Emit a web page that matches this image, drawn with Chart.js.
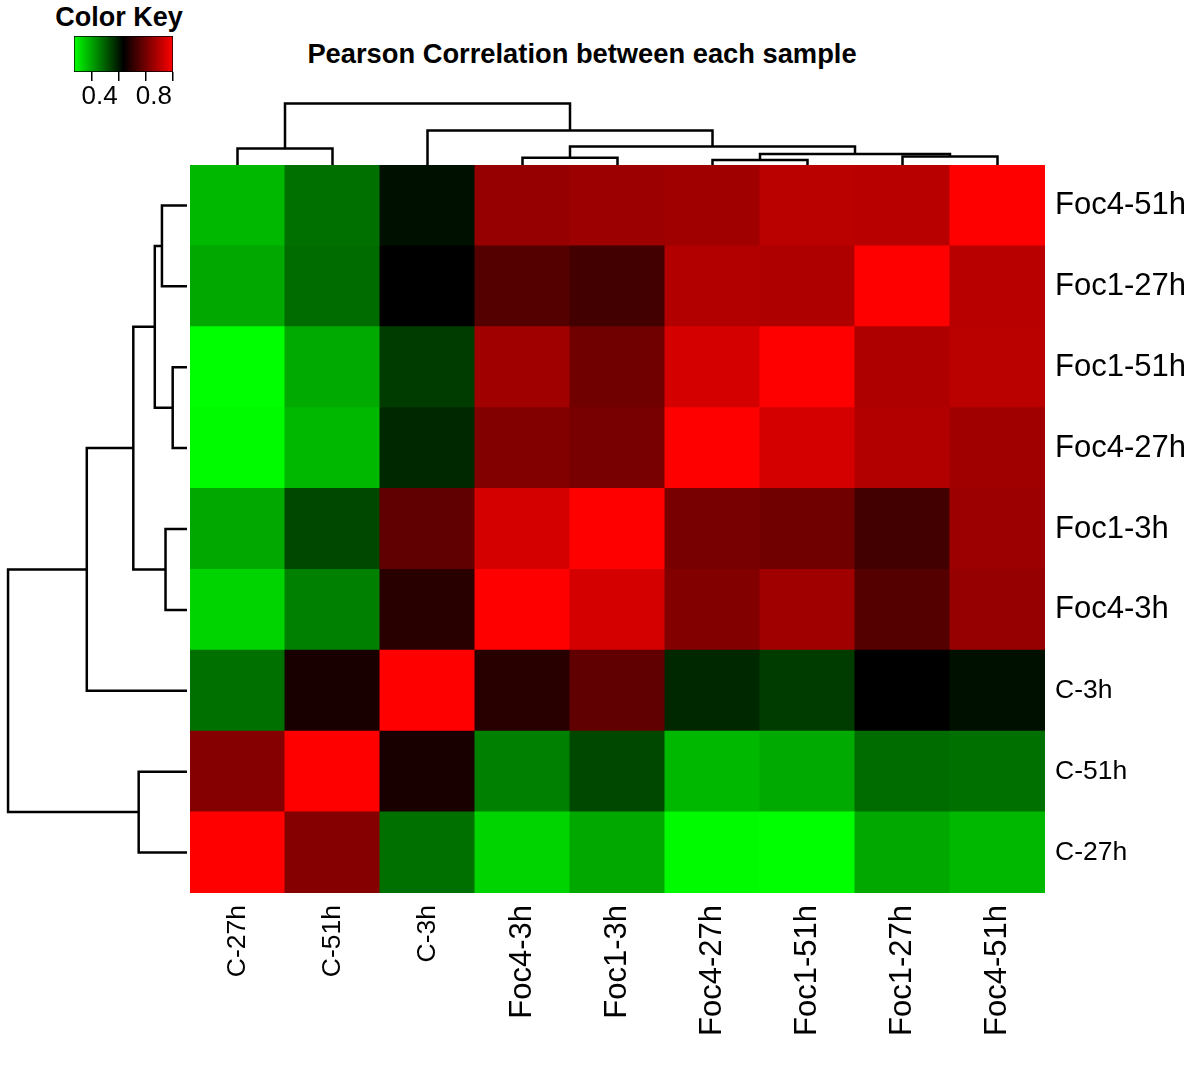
<!DOCTYPE html>
<html lang="en">
<head>
<meta charset="UTF-8" />
<title>Pearson Correlation between each sample</title>
<script src="https://cdn.jsdelivr.net/npm/chart.js"></script>
<style>
  body { margin: 0; background: #fff; font-family: "Liberation Sans", Arial, sans-serif; }
  #page { position: relative; width: 1200px; height: 1065px; overflow: hidden; }
  canvas { position: absolute; }
  .label { position: absolute; text-align: center; font-weight: bold; color: #000; white-space: nowrap; }
  #title { left: 282px; top: 40px; width: 600px; font-size: 27.3px; line-height: 27px; }
  #keyTitle { left: 19px; top: 4px; width: 200px; font-size: 27px; line-height: 27px; }
</style>
</head>
<body>
<div id="page">
  <div id="title" class="label">Pearson Correlation between each sample</div>
  <div id="keyTitle" class="label">Color Key</div>
  <canvas id="keyChart" width="130" height="115" style="left:60px;top:0px"></canvas>
  <canvas id="colTree" width="855" height="70" style="left:190px;top:95px"></canvas>
  <canvas id="rowTree" width="187" height="728" style="left:0px;top:165px"></canvas>
  <canvas id="heatmap" width="1010" height="900" style="left:190px;top:165px"></canvas>
</div>
<script>
  // columns left -> right, rows top -> bottom
  const colLabels = ["C-27h", "C-51h", "C-3h", "Foc4-3h", "Foc1-3h", "Foc4-27h", "Foc1-51h", "Foc1-27h", "Foc4-51h"];
  const rowLabels = ["Foc4-51h", "Foc1-27h", "Foc1-51h", "Foc4-27h", "Foc1-3h", "Foc4-3h", "C-3h", "C-51h", "C-27h"];

  // Pearson correlation, one row per rowLabels entry, columns in colLabels order
  const corrFoc4_51h = [0.372, 0.475, 0.612, 0.850, 0.858, 0.864, 0.903, 0.898, 1.000];
  const corrFoc1_27h = [0.395, 0.480, 0.635, 0.757, 0.729, 0.890, 0.885, 1.000, 0.898];
  const corrFoc1_51h = [0.270, 0.392, 0.549, 0.864, 0.795, 0.938, 1.000, 0.885, 0.903];
  const corrFoc4_27h = [0.277, 0.372, 0.578, 0.821, 0.807, 1.000, 0.938, 0.890, 0.864];
  const corrFoc1_3h  = [0.395, 0.532, 0.772, 0.938, 1.000, 0.807, 0.795, 0.729, 0.858];
  const corrFoc4_3h  = [0.332, 0.452, 0.692, 1.000, 0.938, 0.821, 0.864, 0.757, 0.850];
  const corrC_3h     = [0.475, 0.669, 1.000, 0.692, 0.772, 0.578, 0.549, 0.635, 0.612];
  const corrC_51h    = [0.825, 1.000, 0.669, 0.452, 0.532, 0.372, 0.392, 0.480, 0.475];
  const corrC_27h    = [1.000, 0.825, 0.475, 0.332, 0.395, 0.277, 0.270, 0.395, 0.372];
  const corrRows = [corrFoc4_51h, corrFoc1_27h, corrFoc1_51h, corrFoc4_27h, corrFoc1_3h,
                    corrFoc4_3h, corrC_3h, corrC_51h, corrC_27h];

  // colour key
  const keyMin = 0.27;
  const keyMax = 1.0;
  const keyTicks = [0.4, 0.6, 0.8, 1.0];
  const keyTickLabels = ["0.4", "", "0.8", ""];

  // hierarchical clustering (same tree for rows and columns): [id, a, b, height]
  const merges = [
    ["m1", "Foc4-27h", "Foc1-51h", 0.08],
    ["m2", "Foc4-3h", "Foc1-3h", 0.12],
    ["m3", "Foc1-27h", "Foc4-51h", 0.14],
    ["m4", "m1", "m3", 0.18],
    ["m5", "C-27h", "C-51h", 0.27],
    ["m6", "m2", "m4", 0.30],
    ["m7", "C-3h", "m6", 0.56],
    ["m8", "m5", "m7", 1.00],
  ];

  Chart.defaults.font.family = '"Liberation Sans", Arial, sans-serif';
  Chart.defaults.color = "#000";

  function heatColor(v) {
    const mid = (keyMin + keyMax) / 2;
    if (v < mid) {
      const g = Math.min(255, Math.round((255 * (mid - v)) / (mid - keyMin)));
      return `rgb(0,${g},0)`;
    }
    const r = Math.min(255, Math.round((255 * (v - mid)) / (keyMax - mid)));
    return `rgb(${r},0,0)`;
  }

  function labelSize(name) {
    return name.startsWith("Foc") ? 31 : 26.5;
  }

  // one polyline per merge: up from child a, across, down to child b
  function treeSegments(leafPos) {
    const pos = {}, hgt = {};
    for (const name in leafPos) { pos[name] = leafPos[name]; hgt[name] = 0; }
    return merges.map(([id, a, b, h]) => {
      const seg = [[pos[a], hgt[a]], [pos[a], h], [pos[b], h], [pos[b], hgt[b]]];
      pos[id] = (pos[a] + pos[b]) / 2;
      hgt[id] = h;
      return seg;
    });
  }

  const baseOpts = {
    responsive: false,
    animation: false,
    devicePixelRatio: 1,
    layout: { padding: 0 },
    plugins: { legend: { display: false }, tooltip: { enabled: false } },
  };

  // ---- heatmap ----
  const nRows = rowLabels.length;
  const heatSets = [];
  for (let k = 0; k < nRows; k++) {
    const rowIdx = nRows - 1 - k; // stacked from the bottom
    heatSets.push({
      label: rowLabels[rowIdx],
      data: colLabels.map(() => 1),
      backgroundColor: corrRows[rowIdx].map(heatColor),
      borderWidth: 0,
      barPercentage: 1,
      categoryPercentage: 1,
      inflateAmount: 0.5,
    });
  }

  new Chart(document.getElementById("heatmap"), {
    type: "bar",
    data: { labels: colLabels, datasets: heatSets },
    options: {
      ...baseOpts,
      scales: {
        x: {
          stacked: true,
          grid: { display: false, drawTicks: false },
          border: { display: false },
          ticks: {
            autoSkip: false,
            minRotation: 90,
            maxRotation: 90,
            padding: 12,
            color: "#000",
            font: (ctx) => ({ size: labelSize(colLabels[ctx.index] || "") }),
          },
          afterFit: (s) => { s.height = 172; s.paddingLeft = 0; s.paddingRight = 0; },
        },
        y: { stacked: true, display: false, min: 0, max: nRows },
        rows: {
          type: "category",
          position: "right",
          labels: rowLabels,
          offset: true,
          grid: { display: false, drawTicks: false },
          border: { display: false },
          ticks: {
            padding: 10,
            color: "#000",
            font: (ctx) => ({ size: labelSize(rowLabels[ctx.index] || "") }),
          },
          afterFit: (s) => { s.width = 155; s.paddingTop = 0; s.paddingBottom = 0; },
        },
      },
    },
  });

  // ---- dendrograms ----
  function lineSet(points) {
    return {
      data: points,
      showLine: true,
      borderColor: "#000",
      borderWidth: 2.5,
      pointRadius: 0,
      tension: 0,
      clip: false,
    };
  }

  const colPos = {};
  colLabels.forEach((n, i) => { colPos[n] = i + 0.5; });
  const colSets = treeSegments(colPos).map((seg) => lineSet(seg.map(([p, h]) => ({ x: p, y: h }))));

  new Chart(document.getElementById("colTree"), {
    type: "scatter",
    data: { datasets: colSets },
    options: {
      ...baseOpts,
      scales: {
        x: { type: "linear", display: false, min: 0, max: colLabels.length },
        y: { type: "linear", display: false, min: 0, max: 1.14 },
      },
    },
  });

  const rowPos = {};
  rowLabels.forEach((n, i) => { rowPos[n] = nRows - 1 - i + 0.5; });
  const rowSets = treeSegments(rowPos).map((seg) => lineSet(seg.map(([p, h]) => ({ x: h, y: p }))));

  new Chart(document.getElementById("rowTree"), {
    type: "scatter",
    data: { datasets: rowSets },
    options: {
      ...baseOpts,
      scales: {
        x: { type: "linear", display: false, min: 0, max: 1.045, reverse: true },
        y: { type: "linear", display: false, min: 0, max: nRows },
      },
    },
  });

  // ---- colour key ----
  function keyGradient(ctx) {
    const chart = ctx.chart;
    if (!chart.chartArea) return "#000";
    const sx = chart.scales.x;
    const g = chart.ctx.createLinearGradient(sx.getPixelForValue(keyMin), 0, sx.getPixelForValue(keyMax), 0);
    g.addColorStop(0, heatColor(keyMin));
    g.addColorStop(0.5, heatColor((keyMin + keyMax) / 2));
    g.addColorStop(1, heatColor(keyMax));
    return g;
  }

  new Chart(document.getElementById("keyChart"), {
    type: "bar",
    data: {
      labels: [""],
      datasets: [{
        data: [[keyMin, keyMax]],
        backgroundColor: keyGradient,
        borderColor: "#000",
        borderWidth: 1,
        borderSkipped: false,
        barPercentage: 1,
        categoryPercentage: 1,
      }],
    },
    options: {
      ...baseOpts,
      indexAxis: "y",
      layout: { padding: { left: 14, right: 17, top: 36, bottom: 0 } },
      scales: {
        y: { display: false },
        x: {
          type: "linear",
          min: keyMin,
          max: keyMax,
          afterBuildTicks: (s) => { s.ticks = keyTicks.map((v) => ({ value: v })); },
          ticks: {
            autoSkip: false,
            maxRotation: 0,
            padding: 0,
            labelOffset: 8,
            color: "#000",
            font: { size: 26 },
            callback: (v, i) => keyTickLabels[i],
          },
          grid: { drawOnChartArea: false, drawTicks: true, tickLength: 9, color: "#000", lineWidth: 1.5 },
          border: { display: false },
          afterFit: (s) => { s.height = 43; s.paddingLeft = 0; s.paddingRight = 0; },
        },
      },
    },
  });
</script>
</body>
</html>
